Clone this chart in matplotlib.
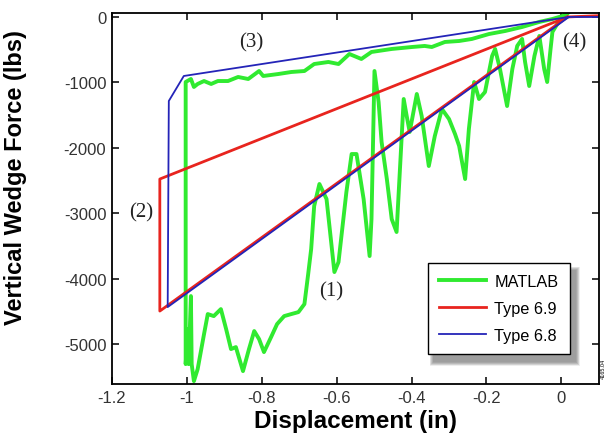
import matplotlib
matplotlib.use("Agg")
from matplotlib import pyplot as plt
import matplotlib.ticker as ticker
from matplotlib.patches import Rectangle
from matplotlib.transforms import IdentityTransform

# MATLAB run: unloading branch (3), listed left to right
matlab_up_x = [-1.003, -0.989, -0.981, -0.971, -0.954, -0.935, -0.917, -0.890, -0.863,
               -0.836, -0.807, -0.796, -0.756, -0.721, -0.686, -0.660, -0.622, -0.595,
               -0.566, -0.534, -0.507, -0.453, -0.399, -0.365, -0.346, -0.311, -0.273,
               -0.239, -0.193, -0.150, -0.105, -0.059, -0.024, 0.003, 0.024]
matlab_up_y = [-994, -948, -1070, -1024, -979, -1024, -979, -979, -917,
               -948, -826, -902, -872, -841, -826, -719, -688, -719,
               -566, -642, -535, -489, -459, -443, -459, -382, -367,
               -336, -260, -214, -153, -76, -31, 15, 92]

# MATLAB run: loading branch (1), listed left to right
matlab_lo_x = [-1.003, -1.003, -0.997, -0.995, -0.989, -0.987, -0.981, -0.971, -0.954, -0.944,
               -0.928, -0.909, -0.895, -0.882, -0.869, -0.850, -0.834, -0.820, -0.807, -0.794,
               -0.775, -0.759, -0.740, -0.721, -0.702, -0.686, -0.676, -0.668, -0.660, -0.646,
               -0.627, -0.606, -0.595, -0.574, -0.560, -0.547, -0.528, -0.512, -0.507, -0.499,
               -0.488, -0.480, -0.466, -0.453, -0.440, -0.432, -0.421, -0.413, -0.405, -0.386,
               -0.373, -0.354, -0.338, -0.319, -0.300, -0.284, -0.273, -0.257, -0.247, -0.233,
               -0.220, -0.204, -0.185, -0.177, -0.164, -0.145, -0.131, -0.118, -0.105, -0.097,
               -0.086, -0.072, -0.059, -0.046, -0.038, -0.029, -0.024, -0.003, 0.024]
matlab_lo_y = [-994, -5306, -4771, -5306, -4266, -5306, -5566, -5382, -4847, -4541,
               -4572, -4465, -4771, -5076, -5046, -5413, -5076, -4801, -4924, -5122,
               -4893, -4694, -4572, -4541, -4511, -4388, -3930, -3547, -2890, -2553,
               -2783, -3899, -3746, -2676, -2095, -2095, -2783, -3654, -3089, -826,
               -1300, -1911, -2477, -3089, -3287, -2431, -1254, -1514, -1758, -1177,
               -1514, -2278, -1820, -1407, -1560, -1789, -1972, -2477, -1712, -994,
               -1254, -1147, -596, -489, -795, -1361, -795, -443, -336, -688,
               -1055, -596, -290, -795, -994, -489, -229, -31, 92]

type69_x = [0.10, 0.016, -1.072, -1.072, 0.016]
type69_y = [20, 0, -4495, -2477, 0]

type68_x = [0.10, 0.020, -1.051, -1.048, -1.008, 0.020]
type68_y = [0, 0, -4434, -1284, -902, 0]

xticks = [-1.2, -1.0, -0.8, -0.6, -0.4, -0.2, 0.0]
yticks = [0, -1000, -2000, -3000, -4000, -5000]

# (label, x, y) for the numbered regions
notes = [("(1)", -0.614, -4190), ("(2)", -1.123, -2982),
         ("(3)", -0.828, -382), ("(4)", 0.035, -382)]

plt.rcParams['font.family'] = ['Liberation Sans', 'DejaVu Sans']

fig = plt.figure(figsize=(6.08, 4.39), dpi=100)
ax = fig.add_axes([0.184, 0.123, 0.801, 0.845])

mx = matlab_up_x[::-1] + matlab_lo_x
my = matlab_up_y[::-1] + matlab_lo_y
ax.plot(mx, my, color='#30ea30', lw=2.8, label='MATLAB', solid_joinstyle='round')
ax.plot(type69_x, type69_y, color='#e8241e', lw=2.0, label='Type 6.9')
ax.plot(type68_x, type68_y, color='#2424b8', lw=1.3, label='Type 6.8')

for txt, x, y in notes:
    ax.text(x, y, txt, family='Liberation Serif', fontsize=15,
            ha='center', va='center', color='#222222')

ax.set_xlim(-1.2, 0.1)
ax.set_ylim(-5610, 60)
ax.set_xticks(xticks)
ax.set_yticks(yticks)
ax.xaxis.set_major_formatter(ticker.FuncFormatter(lambda v, p: '%g' % round(v, 1)))
ax.yaxis.set_major_formatter(ticker.FuncFormatter(lambda v, p: '%d' % v))
ax.tick_params(direction='in', top=True, right=True, length=5, width=1.1,
               labelsize=12, labelcolor='#333333', pad=4)
for s in ax.spines.values():
    s.set_linewidth(1.3)

ax.set_xlabel('Displacement (in)', fontsize=17.5, fontweight='bold', labelpad=3)
ax.set_ylabel('Vertical Wedge Force (lbs)', fontsize=17, fontweight='bold')
ax.yaxis.set_label_coords(-0.175, 0.558)

leg = ax.legend(loc='lower right', bbox_to_anchor=(0.94, 0.081), borderaxespad=0,
                fontsize=11.7, fancybox=False, edgecolor='black', framealpha=1,
                handlelength=2.9, labelspacing=0.72, borderpad=0.7, handletextpad=0.5)
leg.get_frame().set_linewidth(1.0)
leg.set_zorder(10)

# soft drop shadow behind the legend box, drawn inside the axes under the legend
fig.canvas.draw()
bb = leg.get_window_extent()
for i in range(8):
    grow = 8 - i
    ax.add_patch(Rectangle((bb.x0 + 6 - grow / 2, bb.y0 - 8 - grow / 2),
                           bb.width + grow, bb.height + grow,
                           transform=IdentityTransform(), facecolor='0.3',
                           edgecolor='none', alpha=0.09, zorder=9, clip_on=False))

fig.text(0.993, 0.16, '4165.04', rotation=90, fontsize=4, ha='center', va='center')

plt.savefig("out.png")
